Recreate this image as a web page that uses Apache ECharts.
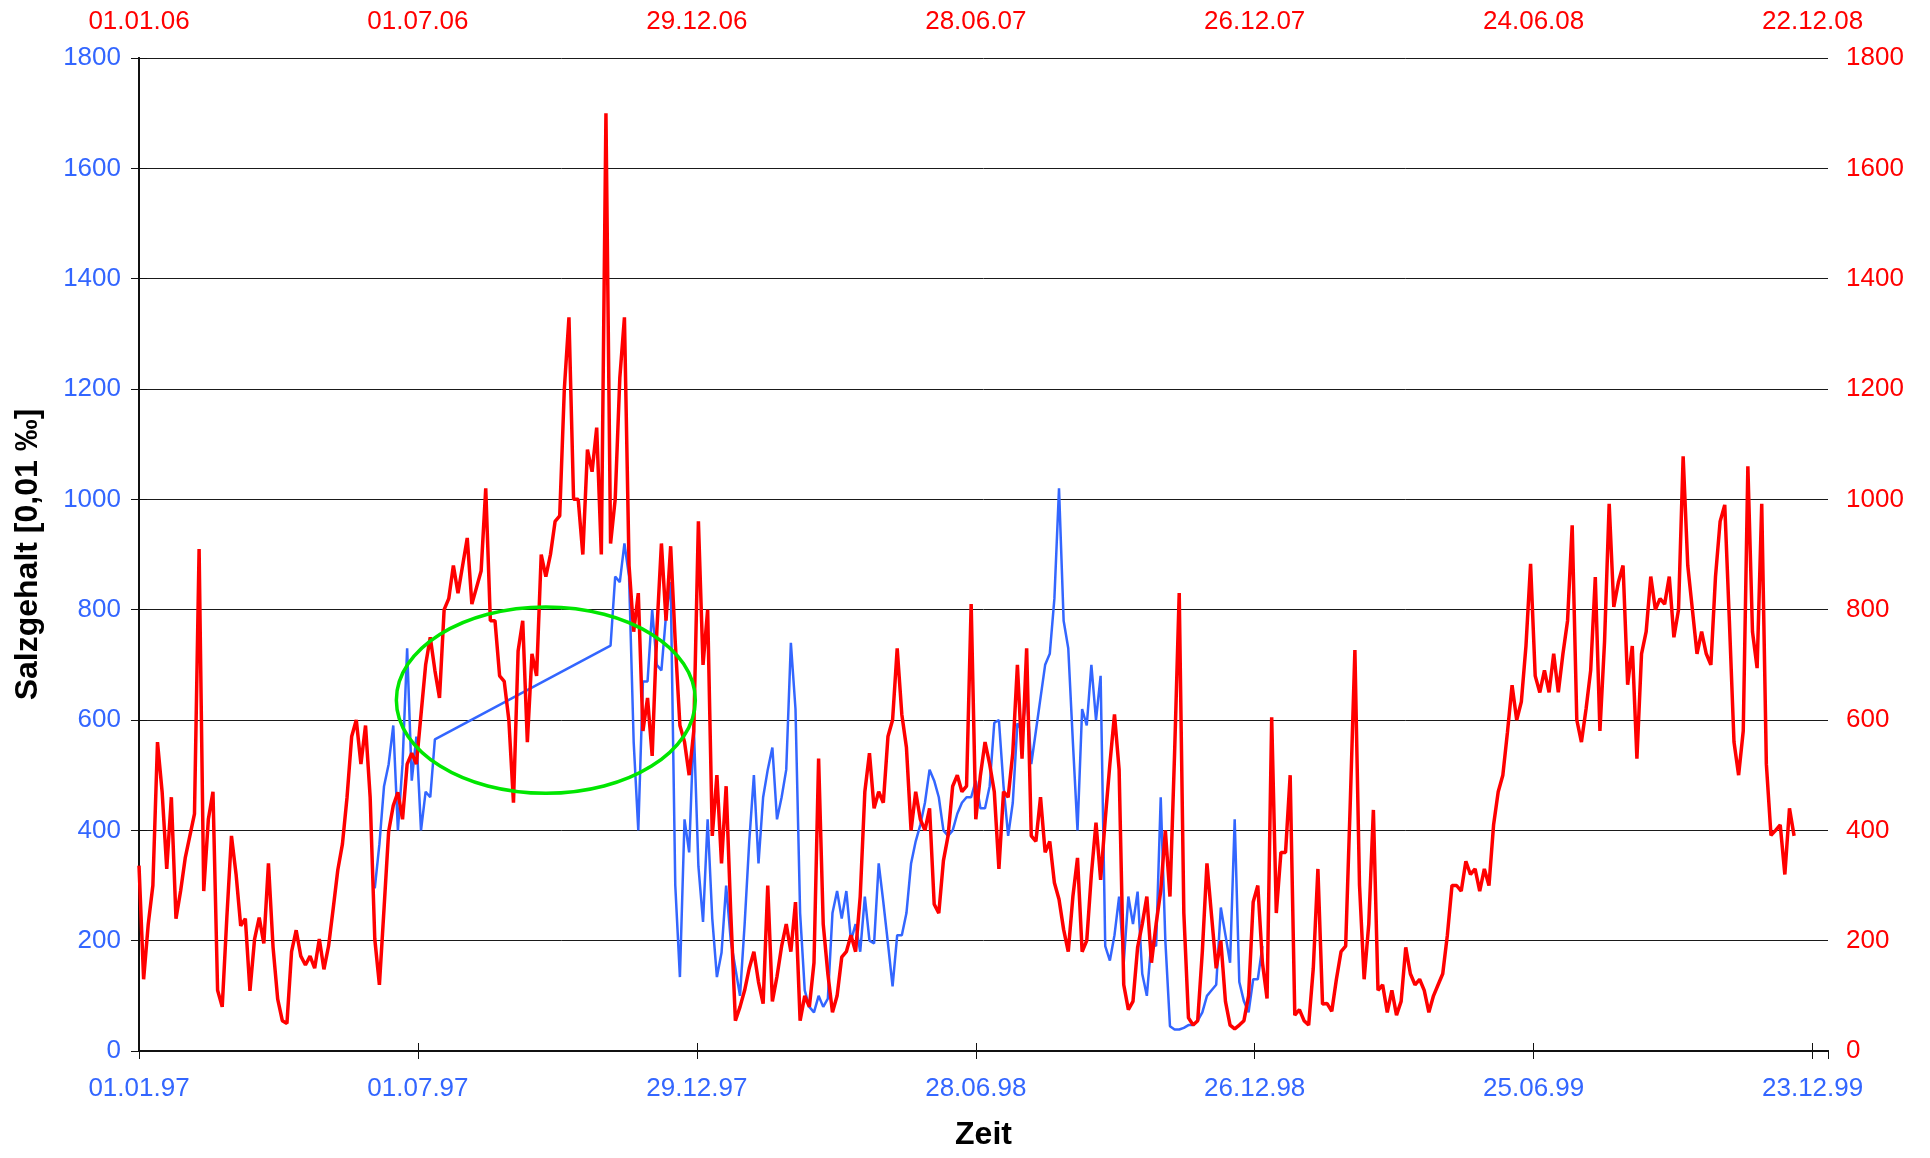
<!DOCTYPE html>
<html><head><meta charset="utf-8">
<script src="https://cdn.jsdelivr.net/npm/echarts@6/dist/echarts.min.js"></script>
<style>html,body{margin:0;padding:0;background:#fff}#c{width:1930px;height:1158px}</style>
</head><body><div id="c"></div>
<script>
// ---- data ----
const bottomStartDate = '1997-01-01';   // blue series, bottom axis
const topStartDate = '2006-01-01';      // red series, top axis
const axisDays = 1096;                  // axis length in days
const tickStepDays = 181;               // date tick spacing
const yMin = 0, yMax = 1800, yStep = 200;
const sampleStepDays = 3;               // readings every 3 days

// red series (2006-2008), first reading at day 0
const redFirstDay = 0;
const redValues = [
336,130,230,300,560,470,330,460,240,290,
350,390,430,910,290,420,470,110,80,242,
390,320,227,240,109,203,242,195,340,188,
94,55,50,180,219,172,156,172,150,203,
148,190,258,328,375,460,570,600,520,590,
460,203,120,258,398,445,469,420,520,540,
520,610,700,750,690,640,800,820,880,830,
880,930,810,840,870,1020,780,780,680,670,
600,450,725,780,560,720,680,900,860,900,
960,970,1200,1330,1000,1000,900,1090,1050,1130,
900,1700,920,1000,1220,1330,880,760,830,580,
640,535,760,920,780,915,740,590,560,500,
580,960,700,800,390,500,340,480,250,55,
80,110,150,180,125,86,300,90,135,190,
230,180,270,55,100,80,160,530,230,140,
70,100,170,180,210,180,280,470,540,440,
470,450,570,600,730,610,550,400,470,420,
400,440,266,250,345,390,480,500,470,480,
810,420,500,560,520,470,330,470,460,540,
700,530,730,390,380,460,360,380,305,275,
220,180,280,350,180,200,320,414,310,420,
520,610,510,120,75,90,188,230,280,160,
230,290,400,280,540,830,250,60,47,55,
180,340,245,150,200,90,47,40,47,55,
100,270,300,160,95,605,250,360,360,500,
65,75,55,47,150,330,85,86,72,130,
180,190,450,727,300,130,230,437,110,120,
70,110,65,90,188,140,120,130,110,70,
100,120,140,210,300,300,290,344,320,330,
290,330,300,410,470,500,578,663,600,633,
734,883,680,650,690,650,720,650,720,780,
953,600,560,620,690,859,580,742,992,805,
850,880,664,734,530,720,760,860,800,820,
810,860,750,800,1078,880,800,720,760,720,
700,860,960,990,780,560,500,580,1060,760,
694,992,520,391,400,410,320,440,390
];

// blue series (1997-1999), two recorded stretches joined by a straight line
const blueFirstDayA = 153;
const blueValuesA = [295,375,480,520,590,400,520,730,490,570,400,470,460,565];
const blueFirstDayB = 306;
const blueValuesB = [
735,
860,850,920,860,560,400,670,670,800,700,
690,790,850,300,134,420,360,590,335,234,
420,240,134,178,
300,200,150,100,230,380,500,340,460,510,
550,420,460,510,740,620,250,110,80,70,
100,80,95,250,290,240,290,200,230,180,
280,200,195,340,270,195,117,210,210,250,
340,380,410,450,510,490,460,400,390,400,
430,450,460,460,490,440,440,480,595,600,
480,390,450,
594,580,650,520,580,640,700,720,820,1020,
780,730,560,400,620,590,700,600,680,190,
164,210,280,160,280,230,289,140,100,200,
190,460,200,45,39,39,42,47,47,55,
70,100,110,120,260,210,160,420,125,90,
70,130,130,190
];

// green ellipse annotation (data units of the bottom/left axes)
const noteEllipse = {centerDay: 264, centerValue: 636, radiusDays: 97, radiusValue: 169};

const yTitle = 'Salzgehalt [0,01 \u2030]';
const xTitle = 'Zeit';

// ---- styling ----
const BLUE = '#3366FF', RED = '#FF0000', GREEN = '#00E600';
const FONT = '"Liberation Sans", Arial, sans-serif';

function toPoints(firstDay, values) {
  return values.map((v, i) => [firstDay + i * sampleStepDays, v]);
}
const bluePoints = toPoints(blueFirstDayA, blueValuesA).concat(toPoints(blueFirstDayB, blueValuesB));
const redPoints = toPoints(redFirstDay, redValues);

function pad(n) { return (n < 10 ? '0' : '') + n; }
function dateFormatter(startDate) {
  const t0 = Date.parse(startDate + 'T00:00:00Z');
  return function (v) {
    if (Math.round(v) % tickStepDays !== 0) return '';
    const d = new Date(t0 + v * 86400000);
    return pad(d.getUTCDate()) + '.' + pad(d.getUTCMonth() + 1) + '.' + String(d.getUTCFullYear()).slice(2);
  };
}
const plainNumber = v => String(v);

const chart = echarts.init(document.getElementById('c'), null, {renderer: 'canvas'});
const axisLine = {show: true, lineStyle: {color: '#111', width: 2}};
const tickStyle = {color: '#111', width: 1};

chart.setOption({
  animation: false,
  backgroundColor: '#fff',
  grid: {left: 139, right: 102, top: 58, bottom: 107, containLabel: false, outerBoundsMode: 'none'},
  xAxis: [
    {type: 'value', position: 'bottom', min: 0, max: axisDays, interval: tickStepDays,
     axisLine: axisLine, axisTick: {show: true, length: 8, lineStyle: tickStyle},
     splitLine: {show: false},
     axisLabel: {color: BLUE, fontSize: 26, fontFamily: FONT, margin: 25, showMaxLabel: false,
                 formatter: dateFormatter(bottomStartDate)},
     name: xTitle, nameLocation: 'middle', nameGap: 68,
     nameTextStyle: {color: '#000', fontSize: 32, fontWeight: 'bold', fontFamily: FONT}},
    {type: 'value', position: 'top', min: 0, max: axisDays, interval: tickStepDays,
     axisLine: axisLine, axisTick: {show: true, length: 8, lineStyle: tickStyle},
     splitLine: {show: false},
     axisLabel: {color: RED, fontSize: 26, fontFamily: FONT, margin: 23, showMaxLabel: false,
                 formatter: dateFormatter(topStartDate)}},
    {type: 'value', position: 'top', min: 0, max: axisDays, interval: tickStepDays,
     axisLine: {show: false}, axisTick: {show: true, inside: true, length: 8, lineStyle: tickStyle},
     splitLine: {show: false}, axisLabel: {show: false}}
  ],
  yAxis: [
    {type: 'value', position: 'left', min: yMin, max: yMax, interval: yStep,
     axisLine: axisLine, axisTick: {show: true, length: 8, lineStyle: tickStyle},
     splitLine: {show: true, lineStyle: {color: '#1a1a1a', width: 1}},
     axisLabel: {color: BLUE, fontSize: 26, fontFamily: FONT, margin: 18, formatter: plainNumber},
     name: yTitle, nameLocation: 'middle', nameGap: 95, nameRotate: 90,
     nameTextStyle: {color: '#000', fontSize: 32, fontWeight: 'bold', fontFamily: FONT}},
    {type: 'value', position: 'right', min: yMin, max: yMax, interval: yStep,
     axisLine: axisLine, axisTick: {show: true, length: 8, lineStyle: tickStyle},
     splitLine: {show: false},
     axisLabel: {color: RED, fontSize: 26, fontFamily: FONT, margin: 18, formatter: plainNumber}},
    {type: 'value', position: 'right', min: yMin, max: yMax, interval: yStep,
     axisLine: {show: false}, axisTick: {show: true, inside: true, length: 8, lineStyle: tickStyle},
     splitLine: {show: false}, axisLabel: {show: false}}
  ],
  series: [
    {type: 'line', name: '1997-1999', xAxisIndex: 0, yAxisIndex: 0, data: bluePoints,
     showSymbol: false, symbol: 'none', z: 2,
     lineStyle: {color: BLUE, width: 2.5}, itemStyle: {color: BLUE}},
    {type: 'line', name: '2006-2008', xAxisIndex: 1, yAxisIndex: 1, data: redPoints,
     showSymbol: false, symbol: 'none', z: 3,
     lineStyle: {color: RED, width: 3.5}, itemStyle: {color: RED}}
  ]
});

function drawNote() {
  const c = chart.convertToPixel({xAxisIndex: 0, yAxisIndex: 0}, [noteEllipse.centerDay, noteEllipse.centerValue]);
  const e = chart.convertToPixel({xAxisIndex: 0, yAxisIndex: 0},
    [noteEllipse.centerDay + noteEllipse.radiusDays, noteEllipse.centerValue + noteEllipse.radiusValue]);
  chart.setOption({
    graphic: [{type: 'ellipse', z: 10,
      shape: {cx: c[0], cy: c[1], rx: Math.abs(e[0] - c[0]), ry: Math.abs(e[1] - c[1])},
      style: {fill: 'none', stroke: GREEN, lineWidth: 3.5}}]
  });
}
drawNote();
</script>
</body></html>
